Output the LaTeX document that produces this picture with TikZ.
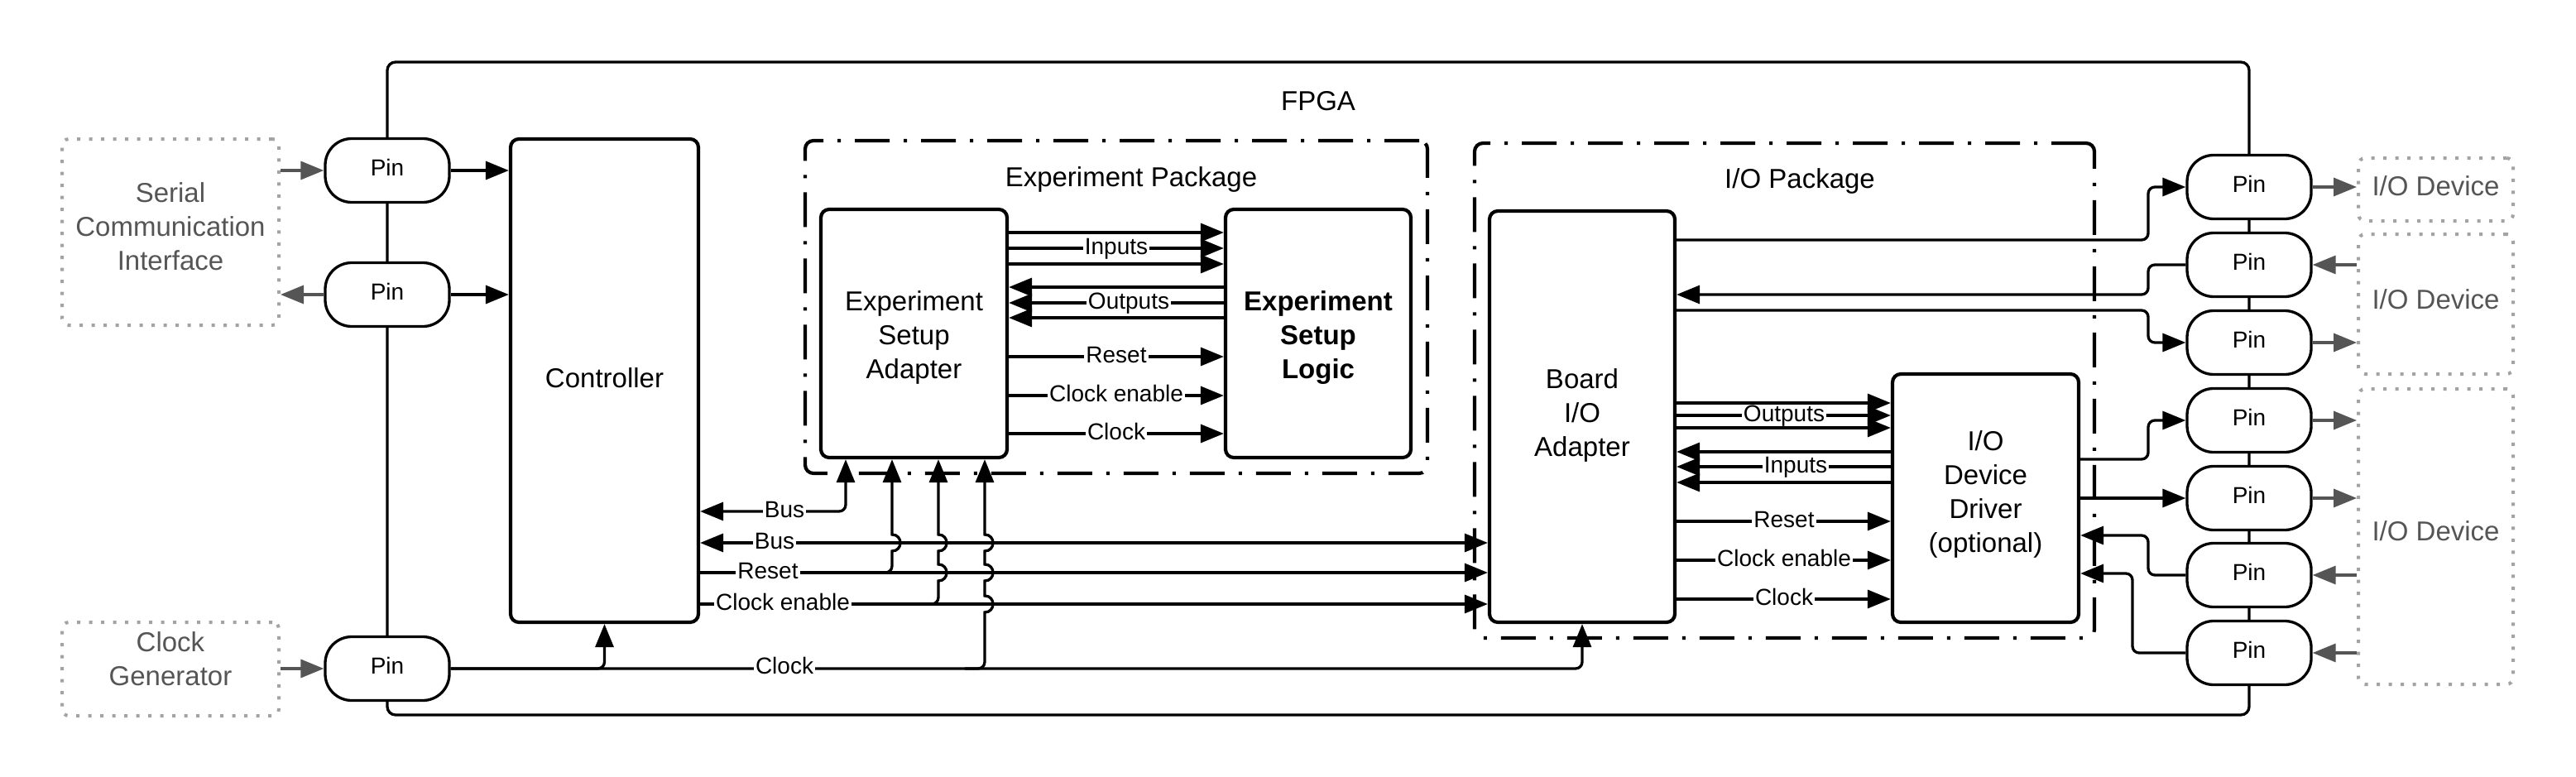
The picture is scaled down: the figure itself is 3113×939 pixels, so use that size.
\documentclass[tikz,border=0pt]{standalone}
\usepackage{fontspec}
\setmainfont{Liberation Sans}
\usetikzlibrary{arrows.meta}
\definecolor{dotgray}{HTML}{A3A3A3}
\definecolor{txtgray}{HTML}{555555}
\definecolor{arrgray}{HTML}{555555}
\newcommand{\myhop}[2]{-- (#1,#2+10) .. controls (#1+13.3,#2+10) and (#1+13.3,#2-10) .. (#1,#2-10)}
\newcommand{\myjoin}[2]{(#1-24,#2) -- (#1-8,#2) .. controls (#1-3.6,#2) and (#1,#2-3.6) .. (#1,#2-8)}
\begin{document}
\begin{tikzpicture}[x=1pt,y=-1pt,
  blk/.style={draw, line width=4.2pt, rounded corners=10pt, fill=white, inner sep=0pt},
  txt/.style={align=center, inner sep=0pt, font=\fontsize{33}{41}\selectfont},
  gtxt/.style={txt, text=txtgray},
  pinbox/.style={draw, line width=3.3pt, rounded corners=32pt, fill=white, minimum width=150pt, minimum height=77pt, inner sep=0pt, text depth=7pt, font=\fontsize{28}{34}\selectfont},
  pkg/.style={draw, line width=4.2pt, rounded corners=10pt, dash pattern=on 42pt off 17pt on 4pt off 17pt, inner sep=0pt},
  ext/.style={draw=dotgray, line width=4pt, dash pattern=on 4pt off 10.5pt, rounded corners=8pt, inner sep=0pt},
  conn/.style={line width=3.3pt},
  arr/.style={conn, -{Triangle[length=28pt,width=22pt]}},
  darr/.style={conn, {Triangle[length=28pt,width=22pt]}-{Triangle[length=28pt,width=22pt]}},
  garr/.style={conn, draw=arrgray, -{Triangle[length=28pt,width=22pt]}},
  lbl/.style={fill=white, inner xsep=2pt, inner ysep=0pt, text height=19pt, text depth=5pt, font=\fontsize{28}{30}\selectfont},
  ttl/.style={inner sep=0pt, font=\fontsize{33}{41}\selectfont}
]
\useasboundingbox (0,0) rectangle (3113,939);

% FPGA and packages
\node[draw, line width=3.3pt, rounded corners=10pt, minimum width=2250pt, minimum height=789pt, inner sep=0pt] (fpga) at (1593,469.5) {};
\node[ttl] (fpgat) at (1593,122) {FPGA};
\node[pkg, minimum width=752pt, minimum height=402pt] (exppkg) at (1349,371) {};
\node[ttl] (exppkgt) at (1367,216.5) {Experiment Package};
\node[pkg, minimum width=749pt, minimum height=598pt] (iopkg) at (2156.5,472) {};
\node[ttl] (iopkgt) at (2175,218.5) {I/O Package};

% blocks
\node[blk, minimum width=227pt, minimum height=584pt] (ctrl) at (730.5,460) {};
\node[txt, yshift=3pt] (ctrlt) at (ctrl.center) {Controller};
\node[blk, minimum width=225pt, minimum height=300pt] (esa) at (1104.5,403) {};
\node[txt, yshift=-5pt] (esat) at (esa.center) {Experiment\\Setup\\Adapter};
\node[blk, minimum width=224pt, minimum height=300pt] (esl) at (1593,403) {};
\node[txt, yshift=-5pt, font=\fontsize{33}{41}\selectfont\bfseries] (eslt) at (esl.center) {Experiment\\Setup\\Logic};
\node[blk, minimum width=224pt, minimum height=497pt] (bio) at (1912,503.5) {};
\node[txt, yshift=2pt] (biot) at (bio.center) {Board\\I/O\\Adapter};
\node[blk, minimum width=225pt, minimum height=300pt] (iodd) at (2399.5,602) {};
\node[txt, yshift=5pt] (ioddt) at (iodd.center) {I/O\\Device\\Driver\\(optional)};

% pins
\node[pinbox] (pinL1) at (468,206) {Pin};
\node[pinbox] (pinL2) at (468,356) {Pin};
\node[pinbox] (pinL3) at (468,808) {Pin};
\foreach \i/\y in {1/226,2/320,3/414,4/508,5/602,6/695,7/789}
  \node[pinbox] (pinR\i) at (2718,\y) {Pin};

% external devices
\node[ext, minimum width=262pt, minimum height=225pt] (serial) at (206,280.5) {};
\node[gtxt, yshift=6.5pt] (serialt) at (serial.center) {Serial\\Communication\\Interface};
\node[ext, minimum width=262pt, minimum height=113pt] (clkgen) at (206,808.5) {};
\node[gtxt, yshift=12pt] (clkgent) at (clkgen.center) {Clock\\Generator};
\node[ext, minimum width=187pt, minimum height=76pt] (iodev1) at (2943.5,229) {};
\node[gtxt, yshift=4pt] (iodev1t) at (iodev1.center) {I/O Device};
\node[ext, minimum width=187pt, minimum height=169pt] (iodev2) at (2943.5,367.5) {};
\node[gtxt, yshift=5.5pt] (iodev2t) at (iodev2.center) {I/O Device};
\node[ext, minimum width=187pt, minimum height=357pt] (iodev3) at (2943.5,648.5) {};
\node[gtxt, yshift=6.5pt] (iodev3t) at (iodev3.center) {I/O Device};

% helper coordinates
\coordinate (xbus) at (1022,0);
\coordinate (xrst) at (1078,0);
\coordinate (xce) at (1134,0);
\coordinate (xck) at (1190,0);
\coordinate (ybus1) at (0,618);
\coordinate (ybus2) at (0,656);
\coordinate (yrst) at (0,692);
\coordinate (yce) at (0,730);

% left side
\draw[garr] (serial.east |- pinL1.west) -- (pinL1.west);
\draw[garr] (pinL2.west) -- (serial.east |- pinL2.west);
\draw[garr] (clkgen.east |- pinL3.west) -- (pinL3.west);
\draw[arr] (pinL1.east) -- (ctrl.west |- pinL1.east);
\draw[arr] (pinL2.east) -- (ctrl.west |- pinL2.east);

% controller buses
\draw[darr, rounded corners=8pt] (esa.south -| xbus) |- (ctrl.east |- ybus1);
\draw[darr] (ctrl.east |- ybus2) -- (bio.west |- ybus2);
\draw[arr] (ctrl.east |- yrst) -- (bio.west |- yrst);
\draw[arr] (ctrl.east |- yce) -- (bio.west |- yce);
\draw[arr, rounded corners=8pt] (pinL3.east) -| (bio.south);
\draw[arr, rounded corners=8pt] (pinL3.east) -| (ctrl.south);
\draw[arr] \myjoin{1078}{692} \myhop{1078}{656} -- (esa.south -| xrst);
\draw[arr] \myjoin{1134}{730} \myhop{1134}{692} \myhop{1134}{656} -- (esa.south -| xce);
\draw[arr] \myjoin{1190}{808} \myhop{1190}{730} \myhop{1190}{692} \myhop{1190}{656} -- (esa.south -| xck);

% experiment package internals
\foreach \y in {281,300,319} \draw[arr] (esa.east |- 0,\y) -- (esl.west |- 0,\y);
\foreach \y in {347,366,384} \draw[arr] (esl.west |- 0,\y) -- (esa.east |- 0,\y);
\foreach \y in {431,478,524} \draw[arr] (esa.east |- 0,\y) -- (esl.west |- 0,\y);

% io package internals
\foreach \y in {487,502,517} \draw[arr] (bio.east |- 0,\y) -- (iodd.west |- 0,\y);
\foreach \y in {546,564,583} \draw[arr] (iodd.west |- 0,\y) -- (bio.east |- 0,\y);
\foreach \y in {630,677,724} \draw[arr] (bio.east |- 0,\y) -- (iodd.west |- 0,\y);

% right side
\draw[arr, rounded corners=8pt] (bio.east |- 0,290) -- (2596,290) |- (pinR1.west);
\draw[arr, rounded corners=8pt] (pinR2.west) -- (2596,320) |- (bio.east |- 0,356);
\draw[arr, rounded corners=8pt] (bio.east |- 0,375) -- (2596,375) |- (pinR3.west);
\draw[arr, rounded corners=8pt] (iodd.east |- 0,555) -- (2596,555) |- (pinR4.west);
\draw[arr] (iodd.east |- pinR5.west) -- (pinR5.west);
\draw[arr, rounded corners=8pt] (pinR6.west) -- (2596,695) |- (iodd.east |- 0,647);
\draw[arr, rounded corners=8pt] (pinR7.west) -- (2577,789) |- (iodd.east |- 0,693);

\draw[garr] (pinR1.east) -- (iodev1.west |- pinR1.east);
\draw[garr] (iodev2.west |- pinR2.east) -- (pinR2.east);
\draw[garr] (pinR3.east) -- (iodev2.west |- pinR3.east);
\draw[garr] (pinR4.east) -- (iodev3.west |- pinR4.east);
\draw[garr] (pinR5.east) -- (iodev3.west |- pinR5.east);
\draw[garr] (iodev3.west |- pinR6.east) -- (pinR6.east);
\draw[garr] (iodev3.west |- pinR7.east) -- (pinR7.east);

% labels
\node[lbl] (l1) at (1349,300) {Inputs};
\node[lbl] (l2) at (1364,366) {Outputs};
\node[lbl] (l3) at (1349,431) {Reset};
\node[lbl] (l4) at (1349,478) {Clock enable};
\node[lbl] (l5) at (1349,524) {Clock};
\node[lbl] (l6) at (2156,502) {Outputs};
\node[lbl] (l7) at (2170,564) {Inputs};
\node[lbl] (l8) at (2156,630) {Reset};
\node[lbl] (l9) at (2156,677) {Clock enable};
\node[lbl] (l10) at (2156,724) {Clock};
\node[lbl] (l11) at (948,618) {Bus};
\node[lbl] (l12) at (936,656) {Bus};
\node[lbl] (l13) at (928,692) {Reset};
\node[lbl] (l14) at (946,730) {Clock enable};
\node[lbl] (l15) at (948,807) {Clock};
\end{tikzpicture}
\end{document}
